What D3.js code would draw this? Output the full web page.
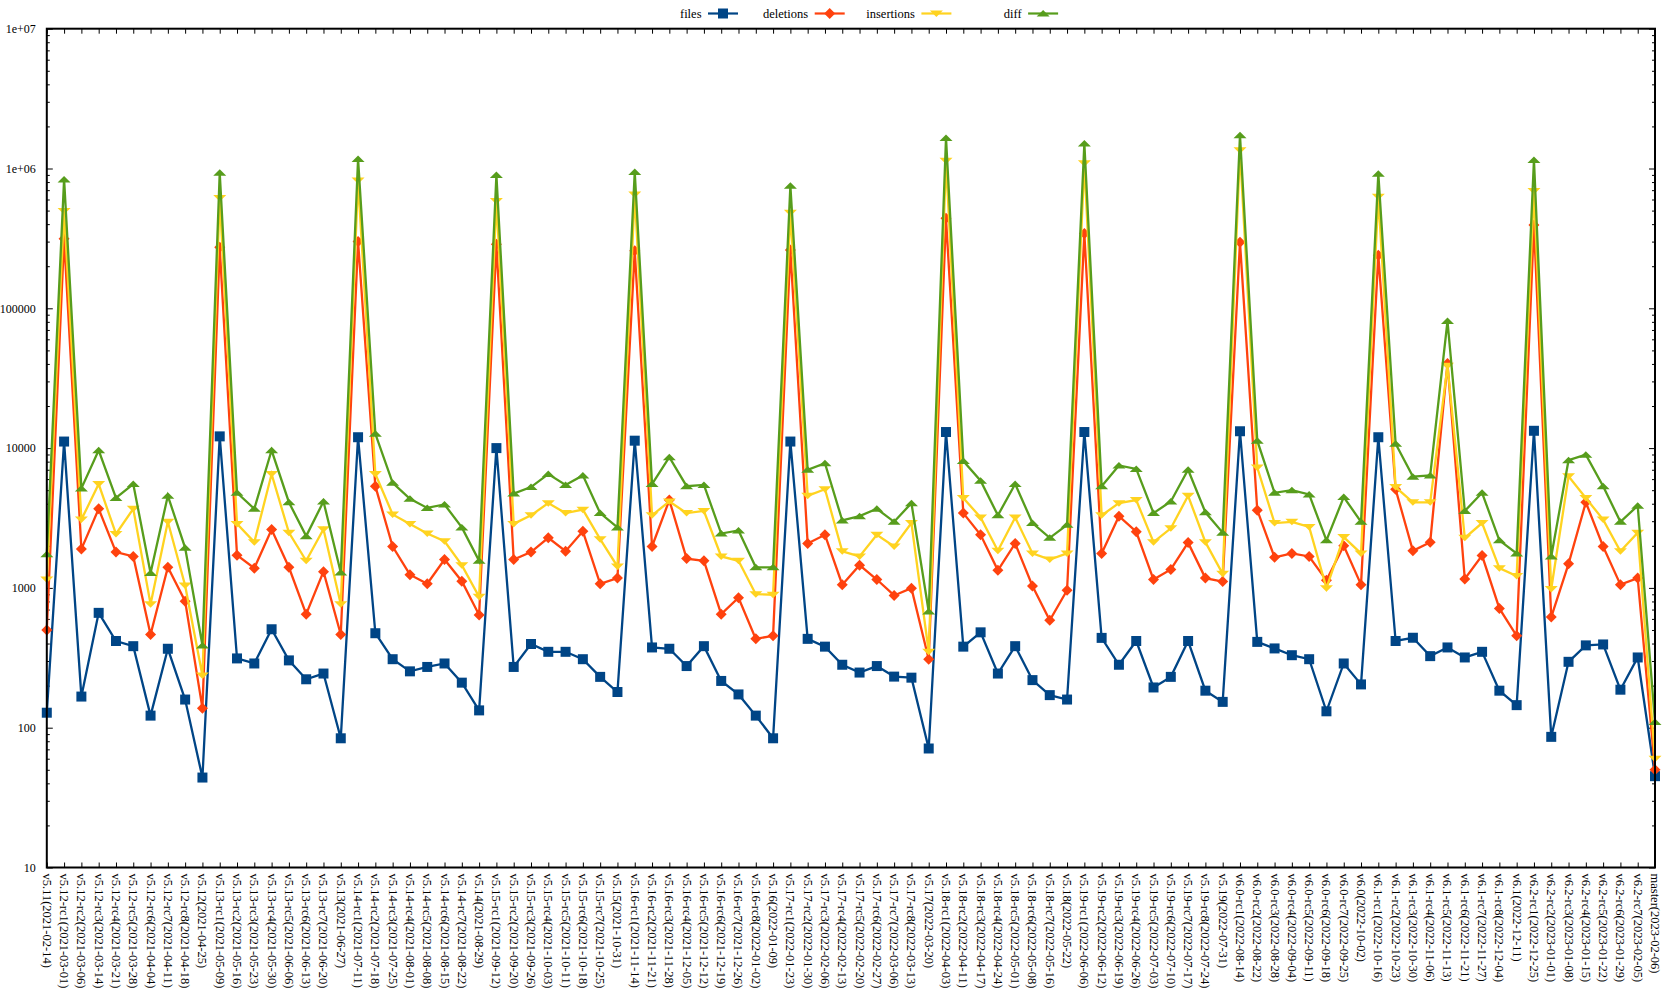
<!DOCTYPE html>
<html><head><meta charset="utf-8">
<script src="https://cdn.jsdelivr.net/npm/d3@7"></script>
<style>html,body{margin:0;padding:0;background:#fff;}svg{display:block;}</style>
</head><body>
<svg id="chart" width="1667" height="1004"></svg>
<script>
const categories = ["v5.11(2021-02-14)","v5.12-rc1(2021-03-01)","v5.12-rc2(2021-03-06)","v5.12-rc3(2021-03-14)","v5.12-rc4(2021-03-21)","v5.12-rc5(2021-03-28)","v5.12-rc6(2021-04-04)","v5.12-rc7(2021-04-11)","v5.12-rc8(2021-04-18)","v5.12(2021-04-25)",
"v5.13-rc1(2021-05-09)","v5.13-rc2(2021-05-16)","v5.13-rc3(2021-05-23)","v5.13-rc4(2021-05-30)","v5.13-rc5(2021-06-06)","v5.13-rc6(2021-06-13)","v5.13-rc7(2021-06-20)","v5.13(2021-06-27)",
"v5.14-rc1(2021-07-11)","v5.14-rc2(2021-07-18)","v5.14-rc3(2021-07-25)","v5.14-rc4(2021-08-01)","v5.14-rc5(2021-08-08)","v5.14-rc6(2021-08-15)","v5.14-rc7(2021-08-22)","v5.14(2021-08-29)",
"v5.15-rc1(2021-09-12)","v5.15-rc2(2021-09-20)","v5.15-rc3(2021-09-26)","v5.15-rc4(2021-10-03)","v5.15-rc5(2021-10-11)","v5.15-rc6(2021-10-18)","v5.15-rc7(2021-10-25)","v5.15(2021-10-31)",
"v5.16-rc1(2021-11-14)","v5.16-rc2(2021-11-21)","v5.16-rc3(2021-11-28)","v5.16-rc4(2021-12-05)","v5.16-rc5(2021-12-12)","v5.16-rc6(2021-12-19)","v5.16-rc7(2021-12-26)","v5.16-rc8(2022-01-02)","v5.16(2022-01-09)",
"v5.17-rc1(2022-01-23)","v5.17-rc2(2022-01-30)","v5.17-rc3(2022-02-06)","v5.17-rc4(2022-02-13)","v5.17-rc5(2022-02-20)","v5.17-rc6(2022-02-27)","v5.17-rc7(2022-03-06)","v5.17-rc8(2022-03-13)","v5.17(2022-03-20)",
"v5.18-rc1(2022-04-03)","v5.18-rc2(2022-04-11)","v5.18-rc3(2022-04-17)","v5.18-rc4(2022-04-24)","v5.18-rc5(2022-05-01)","v5.18-rc6(2022-05-08)","v5.18-rc7(2022-05-16)","v5.18(2022-05-22)",
"v5.19-rc1(2022-06-06)","v5.19-rc2(2022-06-12)","v5.19-rc3(2022-06-19)","v5.19-rc4(2022-06-26)","v5.19-rc5(2022-07-03)","v5.19-rc6(2022-07-10)","v5.19-rc7(2022-07-17)","v5.19-rc8(2022-07-24)","v5.19(2022-07-31)",
"v6.0-rc1(2022-08-14)","v6.0-rc2(2022-08-22)","v6.0-rc3(2022-08-28)","v6.0-rc4(2022-09-04)","v6.0-rc5(2022-09-11)","v6.0-rc6(2022-09-18)","v6.0-rc7(2022-09-25)","v6.0(2022-10-02)",
"v6.1-rc1(2022-10-16)","v6.1-rc2(2022-10-23)","v6.1-rc3(2022-10-30)","v6.1-rc4(2022-11-06)","v6.1-rc5(2022-11-13)","v6.1-rc6(2022-11-21)","v6.1-rc7(2022-11-27)","v6.1-rc8(2022-12-04)","v6.1(2022-12-11)",
"v6.2-rc1(2022-12-25)","v6.2-rc2(2023-01-01)","v6.2-rc3(2023-01-08)","v6.2-rc4(2023-01-15)","v6.2-rc5(2023-01-22)","v6.2-rc6(2023-01-29)","v6.2-rc7(2023-02-05)","master(2023-02-06)"];

const files = [128,11140,167,663,417,383,122,367,159,44,
12130,313,288,506,303,222,244,84,
11960,474,309,253,272,288,210,133,
10000,272,397,349,349,309,231,180,
11300,375,367,276,383,216,173,122,84,
11140,432,380,282,248,276,232,228,71,
13030,380,481,244,383,219,171,159,
13030,439,282,417,194,231,417,184,153,
13200,411,369,330,309,131,288,204,
11960,417,440,325,375,318,349,184,145,
13300,86,296,388,394,187,318,45];

const deletions = [499,315000,1895,3680,1803,1678,464,1404,804,138,
273000,1714,1384,2612,1404,649,1307,464,
301000,5340,1977,1243,1070,1596,1117,640,
287000,1596,1803,2281,1828,2540,1070,1175,
258000,1977,4250,1620,1563,649,851,432,454,
261000,2078,2398,1055,1455,1148,883,996,309,
440000,3427,2398,1336,2078,1033,587,962,
343000,1764,3260,2522,1148,1355,2108,1175,1110,
297000,3600,1655,1764,1678,1133,2005,1055,
240000,5075,1841,2124,40300,1159,1703,713,454,
395000,618,1486,4095,1977,1055,1175,50];

const insertions = [1148,497000,3080,5530,2430,3680,765,2970,1040,236,
615000,2870,2124,6520,2485,1562,2632,765,
819000,6520,3355,2870,2448,2155,1455,863,
585000,2870,3305,4040,3427,3630,2233,1424,
651000,3305,4155,3427,3550,1678,1562,902,893,
483000,4560,5075,1828,1678,2398,1977,2910,349,
1137000,4400,3190,1841,3190,1764,1596,1764,
1090000,3305,4040,4250,2124,2667,4560,2124,1262,
1350000,7250,2910,2970,2729,996,2311,1764,
628000,5260,4095,4095,38800,2281,2910,1384,1217,
690000,982,6290,4400,3080,1828,2485,60];

const diff = [1738,836000,5150,9650,4400,5530,1280,4560,1936,388,
931000,4790,3680,9650,4100,2346,4150,1288,
1170000,12650,5650,4340,3735,3950,2708,1562,
898000,4725,5260,6520,5450,6380,3427,2708,
944000,5530,8610,5340,5450,2448,2575,1404,1404,
752000,7000,7790,3036,3260,3680,2970,4040,678,
1650000,8070,5850,3305,5530,2910,2281,2826,
1510000,5340,7520,7100,3427,4150,7000,3473,2485,
1730000,11300,4790,5000,4660,2188,4466,2970,
918000,10740,6250,6380,81000,3550,4790,2188,1764,
1150000,1678,8190,8980,5340,2970,3870,110];

const yTickValues = [10,100,1000,10000,100000,1000000,10000000];
const yTickLabels = ["10","100","1000","10000","100000","1e+06","1e+07"];

const seriesNames = ["files","deletions","insertions","diff"];
const seriesValues = [files, deletions, insertions, diff];
const seriesColors = ["#004586","#ff420e","#ffd320","#579d1c"];
const seriesMarkers = ["square","diamond","tridown","triup"];

const L = 46.8, R = 1655, T = 28.7, B = 867.5;
const svg = d3.select("#chart");
const font = "'Liberation Serif','Times New Roman',serif";

const x = d3.scalePoint().domain(categories).range([L, R]).padding(0);
const y = d3.scaleLog().domain([10, 1e7]).range([B, T]);

// minor ticks
const minor = [];
for (let d = 10; d < 1e7; d *= 10) for (let k = 2; k <= 9; k++) minor.push(d * k);

const g = svg.append("g");
// Left axis
const leftAxis = d3.axisLeft(y).tickValues(yTickValues).tickFormat((d,i)=>yTickLabels[i]).tickSizeInner(-6).tickSizeOuter(0).tickPadding(11);
const la = g.append("g").attr("transform", `translate(${L},0)`).call(leftAxis);
la.select(".domain").remove();
la.selectAll("text").attr("font-family", font).attr("font-size", 12).attr("fill", "#000");
la.selectAll("line").attr("stroke", "#000").attr("stroke-width", 1);
const laMinor = g.append("g").attr("transform", `translate(${L},0)`).call(d3.axisLeft(y).tickValues(minor).tickFormat("").tickSizeInner(-3).tickSizeOuter(0));
laMinor.select(".domain").remove();
laMinor.selectAll("line").attr("stroke","#000");
// Right axis mirrored
const ra = g.append("g").attr("transform", `translate(${R},0)`).call(d3.axisRight(y).tickValues(yTickValues).tickFormat("").tickSizeInner(-6).tickSizeOuter(0));
ra.select(".domain").remove();
ra.selectAll("line").attr("stroke","#000");
const raMinor = g.append("g").attr("transform", `translate(${R},0)`).call(d3.axisRight(y).tickValues(minor).tickFormat("").tickSizeInner(-3).tickSizeOuter(0));
raMinor.select(".domain").remove();
raMinor.selectAll("line").attr("stroke","#000");

// Bottom axis
const ba = g.append("g").attr("transform", `translate(0,${B})`).call(d3.axisBottom(x).tickSizeInner(-5).tickSizeOuter(0).tickPadding(0));
ba.select(".domain").remove();
ba.selectAll("line").attr("stroke","#000");
ba.selectAll("text")
  .attr("font-family", font).attr("font-size", 12.5).attr("fill","#000")
  .attr("text-anchor","start")
  .attr("dy", null).attr("y", null)
  .attr("transform", "translate(-0.5,6) rotate(90)")
  .attr("dominant-baseline","central");
// Top axis mirrored
const ta = g.append("g").attr("transform", `translate(0,${T})`).call(d3.axisTop(x).tickSizeInner(-5).tickSizeOuter(0).tickFormat(""));
ta.select(".domain").remove();
ta.selectAll("line").attr("stroke","#000");

// series
const symbolPath = (type) => {
  if (type === "square") return "M-5,-5H5V5H-5Z";
  if (type === "diamond") return "M0,-5.5L5.5,0L0,5.5L-5.5,0Z";
  if (type === "triup") return "M-6.5,3L0,-3.5L6.5,3Z";
  return "M-6.5,-3L0,3.5L6.5,-3Z";
};
const line = d3.line().x((d,i)=>x(categories[i])).y(d=>y(d));
const plot = svg.append("g");
seriesValues.forEach((vals, s) => {
  plot.append("path").attr("d", line(vals)).attr("fill","none")
    .attr("stroke", seriesColors[s]).attr("stroke-width", 2.3).attr("stroke-linejoin","miter");
  plot.append("g").selectAll("path").data(vals).join("path")
    .attr("transform", (d,i)=>`translate(${x(categories[i])},${y(d)})`)
    .attr("d", symbolPath(seriesMarkers[s]))
    .attr("fill", seriesColors[s]);
});

// border
svg.append("rect").attr("x", L).attr("y", T).attr("width", R-L).attr("height", B-T)
  .attr("fill","none").attr("stroke","#000").attr("stroke-width",2);

// legend
const lg = svg.append("g");
seriesNames.forEach((name, s) => {
  const sx = 708 + s*106.7, ly = 13.5;
  lg.append("text").attr("x", sx-6.5).attr("y", ly).attr("text-anchor","end")
    .attr("dominant-baseline","central").attr("font-family", font).attr("font-size", 12.5).text(name);
  lg.append("line").attr("x1", sx).attr("x2", sx+30).attr("y1", ly).attr("y2", ly)
    .attr("stroke", seriesColors[s]).attr("stroke-width", 2.2);
  lg.append("path").attr("transform", `translate(${sx+15},${ly})`).attr("d", symbolPath(seriesMarkers[s])).attr("fill", seriesColors[s]);
});
</script>
</body></html>
